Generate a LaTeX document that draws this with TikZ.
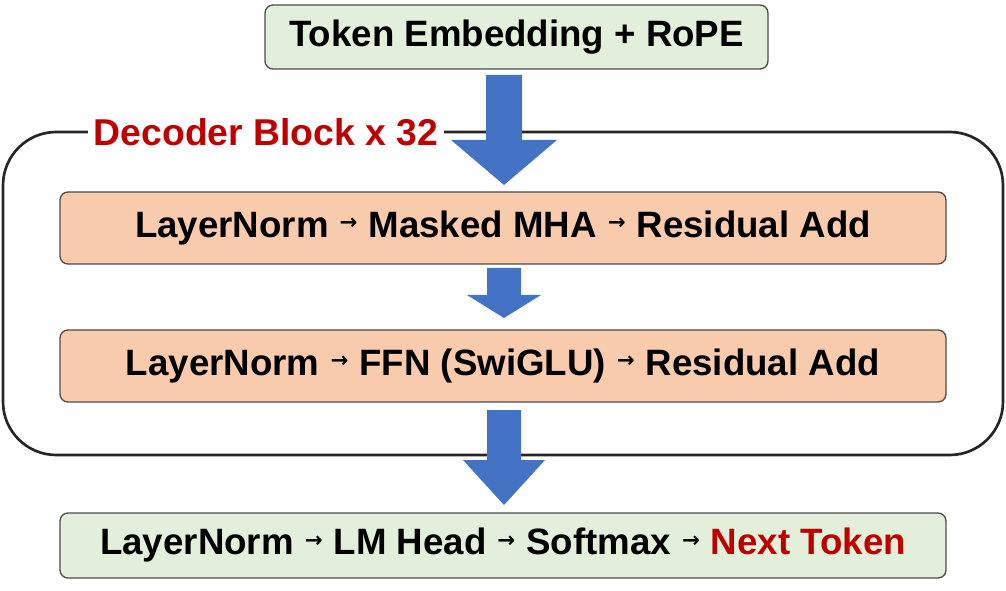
\documentclass[tikz,border=0pt]{standalone}
\usepackage{fontspec}
\setmainfont{Liberation Sans}
\newfontfamily\arrfont{DejaVu Sans}
\definecolor{gbox}{HTML}{E2EFDA}
\definecolor{obox}{HTML}{F8CBAD}
\definecolor{barrow}{HTML}{4472C4}
\definecolor{dred}{HTML}{C00000}
\newcommand{\rar}{\hspace{0.3em}\raisebox{0.4ex}{\arrfont\fontsize{16}{16}\selectfont →}\hspace{0.3em}}
\begin{document}
\begin{tikzpicture}[x=0.75pt,y=-0.75pt,
  box/.style={draw=black!70,line width=1pt,rounded corners=6pt,font=\fontsize{27.5}{30}\selectfont\bfseries,inner sep=0pt},
  barr/.style={fill=barrow}]
\useasboundingbox (0,0) rectangle (1006,591);
\draw[line width=2pt,rounded corners=40pt,draw=black!85] (3,132) rectangle (1003,455);
\node[fill=white,inner xsep=4pt,text=dred,font=\fontsize{28}{30}\selectfont\bfseries] (lbl) at (266,132) {Decoder Block x 32};
\node[box,fill=gbox,minimum width=503*0.75pt,minimum height=64*0.75pt] (top) at (516.5,37) {Token Embedding + RoPE};
\node[box,fill=obox,minimum width=886*0.75pt,minimum height=72*0.75pt] (b1) at (503,228) {LayerNorm\rar Masked MHA\rar Residual Add};
\node[box,fill=obox,minimum width=886*0.75pt,minimum height=72*0.75pt] (b2) at (503,366) {LayerNorm\rar FFN (SwiGLU)\rar Residual Add};
\node[box,fill=gbox,minimum width=886*0.75pt,minimum height=65*0.75pt] (b3) at (503,545.5) {LayerNorm\rar LM Head\rar Softmax\rar \textcolor{dred}{Next Token}};
\fill[barr] (486,75) -- (522,75) -- (522,140) -- (557,140) -- (504,185) -- (451,140) -- (486,140) -- cycle;
\fill[barr] (487,268) -- (521,268) -- (521,295) -- (541,295) -- (504,318) -- (467,295) -- (487,295) -- cycle;
\fill[barr] (487,410) -- (521,410) -- (521,460) -- (545,460) -- (504,505) -- (463,460) -- (487,460) -- cycle;
\end{tikzpicture}
\end{document}
